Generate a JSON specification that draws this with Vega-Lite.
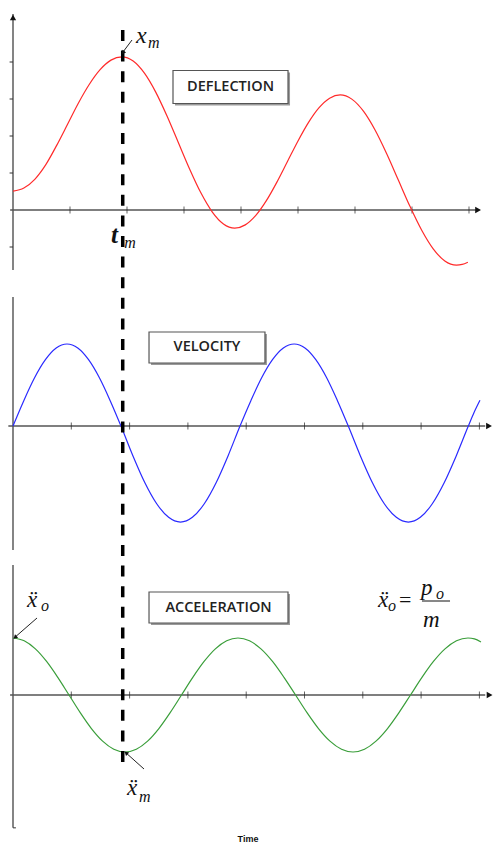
{
  "$schema": "https://vega.github.io/schema/vega-lite/v6.json",
  "padding": 0,
  "spacing": 0,
  "bounds": "flush",
  "background": "white",
  "config": {"view": {"stroke": null}, "concat": {"spacing": 0}},
  "datasets": {
    "defl": [
      {"t":0,"v":0.51},{"t":0.191,"v":0.595},{"t":0.382,"v":0.83},{"t":0.573,"v":1.22},{"t":0.764,"v":1.74},
      {"t":0.955,"v":2.31},{"t":1.146,"v":2.886},{"t":1.337,"v":3.392},{"t":1.528,"v":3.793},{"t":1.719,"v":4.051},
      {"t":1.91,"v":4.14},{"t":2.108,"v":4.027},{"t":2.306,"v":3.698},{"t":2.504,"v":3.186},{"t":2.702,"v":2.54},
      {"t":2.9,"v":1.825},{"t":3.098,"v":1.11},{"t":3.296,"v":0.464},{"t":3.494,"v":-0.048},{"t":3.692,"v":-0.377},
      {"t":3.89,"v":-0.49},{"t":4.075,"v":-0.402},{"t":4.26,"v":-0.146},{"t":4.445,"v":0.252},{"t":4.63,"v":0.754},
      {"t":4.815,"v":1.31},{"t":5.0,"v":1.866},{"t":5.185,"v":2.368},{"t":5.37,"v":2.766},{"t":5.555,"v":3.022},
      {"t":5.74,"v":3.11},{"t":5.944,"v":2.997},{"t":6.148,"v":2.671},{"t":6.352,"v":2.162},{"t":6.556,"v":1.521},
      {"t":6.76,"v":0.81},{"t":6.964,"v":0.099},{"t":7.168,"v":-0.542},{"t":7.372,"v":-1.051},{"t":7.576,"v":-1.377},
      {"t":7.78,"v":-1.49},{"t":7.88,"v":-1.47},{"t":7.98,"v":-1.41}
    ],
    "vel": [
      {"t":0,"v":0},{"t":0.185,"v":0.285},{"t":0.37,"v":0.542},{"t":0.556,"v":0.745},{"t":0.741,"v":0.876},
      {"t":0.926,"v":0.921},{"t":1.111,"v":0.876},{"t":1.296,"v":0.745},{"t":1.482,"v":0.542},{"t":1.667,"v":0.285},
      {"t":1.852,"v":0},{"t":2.056,"v":-0.333},{"t":2.26,"v":-0.634},{"t":2.465,"v":-0.873},{"t":2.669,"v":-1.026},
      {"t":2.873,"v":-1.079},{"t":3.077,"v":-1.026},{"t":3.281,"v":-0.873},{"t":3.486,"v":-0.634},{"t":3.69,"v":-0.333},
      {"t":3.894,"v":0},{"t":4.08,"v":0.285},{"t":4.265,"v":0.542},{"t":4.451,"v":0.745},{"t":4.637,"v":0.876},
      {"t":4.823,"v":0.921},{"t":5.008,"v":0.876},{"t":5.194,"v":0.745},{"t":5.38,"v":0.542},{"t":5.565,"v":0.285},
      {"t":5.751,"v":0},{"t":5.957,"v":-0.333},{"t":6.163,"v":-0.634},{"t":6.369,"v":-0.873},{"t":6.575,"v":-1.026},
      {"t":6.781,"v":-1.079},{"t":6.987,"v":-1.026},{"t":7.192,"v":-0.873},{"t":7.398,"v":-0.634},{"t":7.604,"v":-0.333},
      {"t":7.81,"v":0},{"t":7.91,"v":0.155},{"t":8.01,"v":0.29}
    ],
    "acc": [
      {"t":0,"v":1},{"t":0.192,"v":0.951},{"t":0.384,"v":0.809},{"t":0.576,"v":0.588},{"t":0.768,"v":0.309},
      {"t":0.961,"v":0},{"t":1.153,"v":-0.309},{"t":1.345,"v":-0.588},{"t":1.537,"v":-0.809},{"t":1.729,"v":-0.951},
      {"t":1.921,"v":-1},{"t":2.115,"v":-0.951},{"t":2.309,"v":-0.809},{"t":2.502,"v":-0.588},{"t":2.696,"v":-0.309},
      {"t":2.89,"v":0},{"t":3.084,"v":0.309},{"t":3.278,"v":0.588},{"t":3.471,"v":0.809},{"t":3.665,"v":0.951},
      {"t":3.859,"v":1},{"t":4.056,"v":0.951},{"t":4.253,"v":0.809},{"t":4.451,"v":0.588},{"t":4.648,"v":0.309},
      {"t":4.846,"v":0},{"t":5.043,"v":-0.309},{"t":5.24,"v":-0.588},{"t":5.437,"v":-0.809},{"t":5.635,"v":-0.951},
      {"t":5.832,"v":-1},{"t":6.029,"v":-0.951},{"t":6.226,"v":-0.809},{"t":6.424,"v":-0.588},{"t":6.621,"v":-0.309},
      {"t":6.818,"v":0},{"t":7.015,"v":0.309},{"t":7.212,"v":0.588},{"t":7.41,"v":0.809},{"t":7.607,"v":0.951},
      {"t":7.804,"v":1},{"t":7.915,"v":0.984},{"t":8.027,"v":0.93}
    ],
    "xticks": [
      {"t":1,"v":0},{"t":2,"v":0},{"t":3,"v":0},{"t":4,"v":0},{"t":5,"v":0},{"t":6,"v":0},{"t":7,"v":0},{"t":8,"v":0}
    ]
  },
  "vconcat": [
    {
      "width": 496,
      "height": 285,
      "encoding": {
        "x": {"field": "t", "type": "quantitative", "scale": {"domain": [-0.2281, 8.4737], "nice": false, "zero": false}, "axis": null},
        "y": {"field": "v", "type": "quantitative", "scale": {"domain": [-2.027, 5.676], "nice": false, "zero": false}, "axis": null}
      },
      "layer": [
        {"data": {"values": [{"t": 0, "v": 5.3, "v2": -1.62}]}, "mark": {"type": "rule", "color": "#333", "strokeWidth": 1.2}, "encoding": {"y2": {"field": "v2"}}},
        {"data": {"values": [{"t": 0, "v": 5.2}]}, "mark": {"type": "point", "shape": "triangle-up", "filled": true, "size": 40, "color": "#111", "opacity": 1}, "encoding": {}},
        {"data": {"values": [{"t": -0.06, "t2": 0, "v": 4}, {"t": -0.06, "t2": 0, "v": 3}, {"t": -0.06, "t2": 0, "v": 2}, {"t": -0.06, "t2": 0, "v": 1}, {"t": -0.06, "t2": 0, "v": -1}]}, "mark": {"type": "rule", "color": "#333", "strokeWidth": 1}, "encoding": {"x2": {"field": "t2"}}},
        {"data": {"values": [{"t": -0.05, "t2": 8.15, "v": 0}]}, "mark": {"type": "rule", "color": "#555", "strokeWidth": 1.6}, "encoding": {"x2": {"field": "t2"}}},
        {"data": {"values": [{"t": 8.16, "v": 0}]}, "mark": {"type": "point", "shape": "triangle-right", "filled": true, "size": 45, "color": "#111", "opacity": 1}, "encoding": {}},
        {"data": {"name": "xticks"}, "mark": {"type": "tick", "orient": "vertical", "size": 7, "thickness": 1, "color": "#222"}, "encoding": {}},
        {"data": {"name": "defl"}, "mark": {"type": "line", "color": "#ff2a2a", "strokeWidth": 1.2, "interpolate": "monotone"}, "encoding": {}},
        {"data": {"values": [{"t": 1.925, "v": 4.865, "v2": -2.027}]}, "mark": {"type": "rule", "color": "#000", "strokeWidth": 3.5, "strokeDash": [11, 9.6]}, "encoding": {"y2": {"field": "v2"}}},
        {"data": {"values": [{"t": 2.842, "t2": 4.86, "v": 3.716, "v2": 2.824}]}, "mark": {"type": "rect", "color": "#9a9a9a"}, "encoding": {"x2": {"field": "t2"}, "y2": {"field": "v2"}}},
        {"data": {"values": [{"t": 2.807, "t2": 4.825, "v": 3.77, "v2": 2.878}]}, "mark": {"type": "rect", "fill": "white", "stroke": "#555", "strokeWidth": 1.2}, "encoding": {"x2": {"field": "t2"}, "y2": {"field": "v2"}}},
        {"data": {"values": [{"t": 3.816, "v": 3.324, "label": "DEFLECTION"}]}, "mark": {"type": "text", "font": "Open Sans", "fontSize": 14.5, "fontWeight": 600, "color": "#222", "align": "center", "baseline": "middle"}, "encoding": {"text": {"field": "label"}}},
        {"data": {"values": [{"t": 2.088, "v": 4.595, "t2": 1.925, "v2": 4.26}]}, "mark": {"type": "rule", "color": "#222", "strokeWidth": 1}, "encoding": {"x2": {"field": "t2"}, "y2": {"field": "v2"}}},
        {"data": {"values": [{"t": 1.93, "v": 4.25}]}, "mark": {"type": "point", "shape": "triangle-up", "filled": true, "size": 22, "angle": 218, "color": "#111", "opacity": 1}, "encoding": {}},
        {"data": {"values": [{"t": 2.158, "v": 4.514, "label": "x"}]}, "mark": {"type": "text", "font": "Liberation Serif", "fontStyle": "italic", "fontSize": 24, "color": "#111", "align": "left", "baseline": "alphabetic"}, "encoding": {"text": {"field": "label"}}},
        {"data": {"values": [{"t": 1.72, "v": -0.892, "label": "t"}]}, "mark": {"type": "text", "font": "Liberation Serif", "fontStyle": "italic", "fontWeight": "bold", "fontSize": 25, "color": "#111", "align": "left", "baseline": "alphabetic"}, "encoding": {"text": {"field": "label"}}},
        {"data": {"values": [{"t": 2.368, "v": 4.378, "label": "m"}, {"t": 1.95, "v": -1.027, "label": "m"}]}, "mark": {"type": "text", "font": "Liberation Serif", "fontStyle": "italic", "fontSize": 16, "color": "#111", "align": "left", "baseline": "alphabetic"}, "encoding": {"text": {"field": "label"}}}
      ]
    },
    {
      "width": 496,
      "height": 270,
      "encoding": {
        "x": {"field": "t", "type": "quantitative", "scale": {"domain": [-0.223, 8.2847], "nice": false, "zero": false}, "axis": null},
        "y": {"field": "v", "type": "quantitative", "scale": {"domain": [-1.449, 1.584], "nice": false, "zero": false}, "axis": null}
      },
      "layer": [
        {"data": {"values": [{"t": 0, "v": 1.449, "v2": -1.393}]}, "mark": {"type": "rule", "color": "#333", "strokeWidth": 1.2}, "encoding": {"y2": {"field": "v2"}}},
        {"data": {"values": [{"t": -0.08, "t2": 8.1, "v": 0}]}, "mark": {"type": "rule", "color": "#555", "strokeWidth": 1.6}, "encoding": {"x2": {"field": "t2"}}},
        {"data": {"values": [{"t": 8.165, "v": 0}]}, "mark": {"type": "point", "shape": "triangle-right", "filled": true, "size": 45, "color": "#111", "opacity": 1}, "encoding": {}},
        {"data": {"name": "xticks"}, "mark": {"type": "tick", "orient": "vertical", "size": 7, "thickness": 1, "color": "#222"}, "encoding": {}},
        {"data": {"name": "vel"}, "mark": {"type": "line", "color": "#2a2aff", "strokeWidth": 1.2, "interpolate": "monotone"}, "encoding": {}},
        {"data": {"values": [{"t": 1.882, "v": 1.584, "v2": -1.449}]}, "mark": {"type": "rule", "color": "#000", "strokeWidth": 3.5, "strokeDash": [11, 9.6], "strokeDashOffset": 7.8}, "encoding": {"y2": {"field": "v2"}}},
        {"data": {"values": [{"t": 2.367, "t2": 4.356, "v": 1.0335, "v2": 0.6855}]}, "mark": {"type": "rect", "color": "#9a9a9a"}, "encoding": {"x2": {"field": "t2"}, "y2": {"field": "v2"}}},
        {"data": {"values": [{"t": 2.333, "t2": 4.322, "v": 1.056, "v2": 0.708}]}, "mark": {"type": "rect", "fill": "white", "stroke": "#555", "strokeWidth": 1.2}, "encoding": {"x2": {"field": "t2"}, "y2": {"field": "v2"}}},
        {"data": {"values": [{"t": 3.328, "v": 0.882, "label": "VELOCITY"}]}, "mark": {"type": "text", "font": "Open Sans", "fontSize": 14.5, "fontWeight": 600, "color": "#222", "align": "center", "baseline": "middle"}, "encoding": {"text": {"field": "label"}}}
      ]
    },
    {
      "width": 496,
      "height": 288,
      "encoding": {
        "x": {"field": "t", "type": "quantitative", "scale": {"domain": [-0.223, 8.2847], "nice": false, "zero": false}, "axis": null},
        "y": {"field": "v", "type": "quantitative", "scale": {"domain": [-2.596, 2.456], "nice": false, "zero": false}, "axis": null}
      },
      "layer": [
        {"data": {"values": [{"t": 0, "v": 2.28, "v2": -2.33}]}, "mark": {"type": "rule", "color": "#333", "strokeWidth": 1.2}, "encoding": {"y2": {"field": "v2"}}},
        {"data": {"values": [{"t": 0, "t2": 0.05, "v": -2.33}]}, "mark": {"type": "rule", "color": "#333", "strokeWidth": 1}, "encoding": {"x2": {"field": "t2"}}},
        {"data": {"values": [{"t": -0.05, "t2": 8.1, "v": 0}]}, "mark": {"type": "rule", "color": "#555", "strokeWidth": 1.6}, "encoding": {"x2": {"field": "t2"}}},
        {"data": {"values": [{"t": 8.175, "v": 0}]}, "mark": {"type": "point", "shape": "triangle-right", "filled": true, "size": 45, "color": "#111", "opacity": 1}, "encoding": {}},
        {"data": {"name": "xticks"}, "mark": {"type": "tick", "orient": "vertical", "size": 7, "thickness": 1, "color": "#222"}, "encoding": {}},
        {"data": {"name": "acc"}, "mark": {"type": "line", "color": "#3a9e3a", "strokeWidth": 1.2, "interpolate": "monotone"}, "encoding": {}},
        {"data": {"values": [{"t": 1.882, "v": 2.456, "v2": -1.175}]}, "mark": {"type": "rule", "color": "#000", "strokeWidth": 3.5, "strokeDash": [11, 9.6], "strokeDashOffset": 10}, "encoding": {"y2": {"field": "v2"}}},
        {"data": {"values": [{"t": 2.367, "t2": 4.751, "v": 1.772, "v2": 1.228}]}, "mark": {"type": "rect", "color": "#9a9a9a"}, "encoding": {"x2": {"field": "t2"}, "y2": {"field": "v2"}}},
        {"data": {"values": [{"t": 2.333, "t2": 4.717, "v": 1.807, "v2": 1.263}]}, "mark": {"type": "rect", "fill": "white", "stroke": "#555", "strokeWidth": 1.2}, "encoding": {"x2": {"field": "t2"}, "y2": {"field": "v2"}}},
        {"data": {"values": [{"t": 3.525, "v": 1.535, "label": "ACCELERATION"}]}, "mark": {"type": "text", "font": "Open Sans", "fontSize": 14.5, "fontWeight": 600, "color": "#222", "align": "center", "baseline": "middle"}, "encoding": {"text": {"field": "label"}}},
        {"data": {"values": [{"t": 0.412, "v": 1.351, "t2": 0.03, "v2": 1.01}, {"t": 2.247, "v": -1.298, "t2": 1.935, "v2": -1.012}]}, "mark": {"type": "rule", "color": "#222", "strokeWidth": 1}, "encoding": {"x2": {"field": "t2"}, "y2": {"field": "v2"}}},
        {"data": {"values": [{"t": 0.035, "v": 1.012}]}, "mark": {"type": "point", "shape": "triangle-up", "filled": true, "size": 22, "angle": 229, "color": "#111", "opacity": 1}, "encoding": {}},
        {"data": {"values": [{"t": 1.94, "v": -1.015}]}, "mark": {"type": "point", "shape": "triangle-up", "filled": true, "size": 22, "angle": 312, "color": "#111", "opacity": 1}, "encoding": {}},
        {"data": {"values": [{"t": 0.24, "v": 1.544, "label": "ẍ"}, {"t": 1.955, "v": -1.754, "label": "ẍ"}, {"t": 6.261, "v": 1.544, "label": "ẍ"}, {"t": 6.998, "v": 1.754, "label": "p"}, {"t": 7.033, "v": 1.193, "label": "m"}]}, "mark": {"type": "text", "font": "Liberation Serif", "fontStyle": "italic", "fontSize": 23, "color": "#111", "align": "left", "baseline": "alphabetic"}, "encoding": {"text": {"field": "label"}}},
        {"data": {"values": [{"t": 0.48, "v": 1.474, "label": "o"}, {"t": 2.161, "v": -1.877, "label": "m"}, {"t": 6.432, "v": 1.474, "label": "o"}, {"t": 7.256, "v": 1.684, "label": "o"}]}, "mark": {"type": "text", "font": "Liberation Serif", "fontStyle": "italic", "fontSize": 16, "color": "#111", "align": "left", "baseline": "alphabetic"}, "encoding": {"text": {"field": "label"}}},
        {"data": {"values": [{"t": 6.621, "v": 1.544, "label": "="}]}, "mark": {"type": "text", "font": "Liberation Serif", "fontSize": 22, "color": "#111", "align": "left", "baseline": "alphabetic"}, "encoding": {"text": {"field": "label"}}},
        {"data": {"values": [{"t": 7.015, "t2": 7.496, "v": 1.649}]}, "mark": {"type": "rule", "color": "#111", "strokeWidth": 1}, "encoding": {"x2": {"field": "t2"}}},
        {"data": {"values": [{"t": 4.031, "v": -2.57, "label": "Time"}]}, "mark": {"type": "text", "font": "Liberation Sans", "fontSize": 9, "fontWeight": "bold", "color": "#111", "align": "center", "baseline": "alphabetic"}, "encoding": {"text": {"field": "label"}}}
      ]
    }
  ]
}
